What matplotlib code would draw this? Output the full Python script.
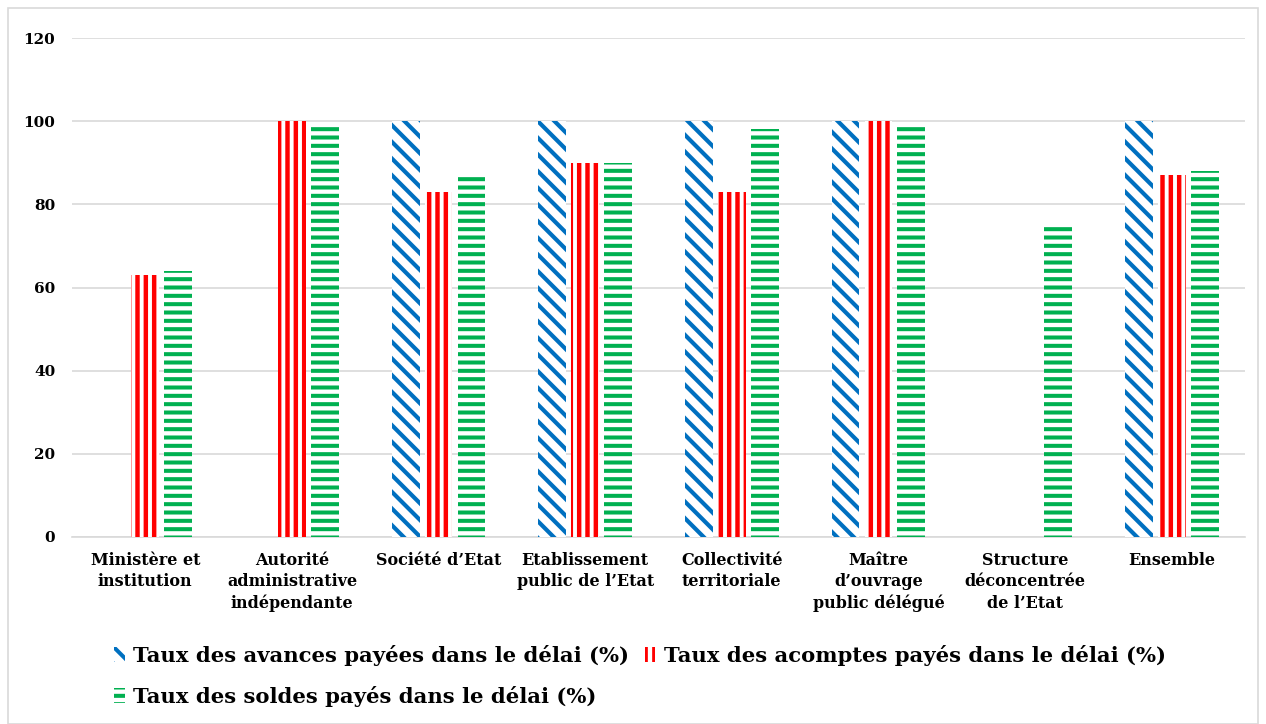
import matplotlib
matplotlib.use("Agg")
import matplotlib.pyplot as plt
import numpy as np
from matplotlib.patches import Patch, Rectangle

categories = ["Ministère et\ninstitution", "Autorité\nadministrative\nindépendante",
              "Société d’Etat", "Etablissement\npublic de l’Etat", "Collectivité\nterritoriale",
              "Maître\nd’ouvrage\npublic délégué", "Structure\ndéconcentrée\nde l’Etat", "Ensemble"]
avances = [0, 0, 100, 100, 100, 100, 0, 100]
acomptes = [63, 100, 83, 90, 83, 100, 0, 87]
soldes = [64, 99, 87, 90, 98, 99, 75, 88]
series_names = ["Taux des avances payées dans le délai (%)",
                "Taux des acomptes payés dans le délai (%)",
                "Taux des soldes payés dans le délai (%)"]
yticks = [0, 20, 40, 60, 80, 100, 120]

FONT = "DejaVu Serif"
plt.rcParams['font.family'] = [FONT]
plt.rcParams['font.weight'] = 'bold'

fig = plt.figure(figsize=(12.66, 7.24), dpi=100)
fig.patches.append(Rectangle((8/1266, 0), 1 - 16/1266, 1 - 8/724, transform=fig.transFigure,
                             fill=False, edgecolor="#d9d9d9", linewidth=1.2))
ax = fig.add_axes([72/1266, 1 - 537/724, (1245 - 72)/1266, (537 - 38)/724])

x = np.arange(len(categories))
step = 0.225
width = 0.19
styles = [("#0070c0", "\\\\", 3.0), ("#ff0000", "||", 3.2), ("#00b050", "--", 2.9)]
handles = []
for i, (vals, (col, hatch, lw)) in enumerate(zip([avances, acomptes, soldes], styles)):
    plt.rcParams['hatch.linewidth'] = lw
    bars = ax.bar(x + (i - 1) * step, vals, width, facecolor="white", edgecolor=col,
                  hatch=hatch, linewidth=0, zorder=3)
    for b in bars:
        if hasattr(b, "set_hatch_linewidth"):
            b.set_hatch_linewidth(lw)
    h = Patch(facecolor="white", edgecolor=col, hatch=hatch, linewidth=0)
    if hasattr(h, "set_hatch_linewidth"):
        h.set_hatch_linewidth(lw)
    handles.append(h)

ax.set_ylim(0, 120)
ax.set_xlim(-0.5, len(categories) - 0.5)
ax.set_yticks(yticks)
ax.set_yticklabels([str(t) for t in yticks], fontsize=11, fontweight="bold")
ax.set_xticks(x)
ax.set_xticklabels(categories, fontsize=11.5, fontweight="bold", va="top", linespacing=1.32)
ax.tick_params(axis="both", length=0)
ax.tick_params(axis="y", pad=12)
ax.tick_params(axis="x", pad=11)
ax.grid(axis="y", color="#d9d9d9", linewidth=1.2, zorder=0)
for s in ["top", "right", "left"]:
    ax.spines[s].set_visible(False)
ax.spines["bottom"].set_color("#d9d9d9")
ax.spines["bottom"].set_linewidth(1.2)

order = [0, 2, 1]
leg = fig.legend([handles[k] for k in order], [series_names[k] for k in order],
                 ncol=2, loc="upper left", bbox_to_anchor=(114/1266, 1 - 645/724),
                 frameon=False, prop={"family": FONT, "weight": "bold", "size": 15.2},
                 handlelength=0.5, handleheight=0.75, handletextpad=0.4,
                 columnspacing=0.75, labelspacing=0.95, borderaxespad=0, borderpad=0)

fig.savefig("out.png", dpi=100)
